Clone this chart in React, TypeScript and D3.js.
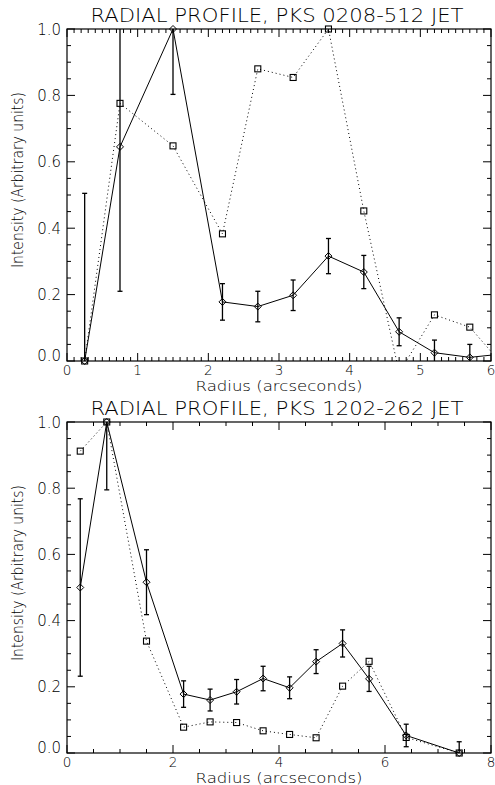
import React from "react";
import * as d3 from "d3";

// ---- Data ----
const titles = ["RADIAL PROFILE, PKS 0208-512 JET", "RADIAL PROFILE, PKS 1202-262 JET"];
const xAxisTitle = "Radius (arcseconds)";
const yAxisTitle = "Intensity (Arbitrary units)";

// Panel 1: PKS 0208-512
const radius1 = [0.25, 0.75, 1.5, 2.2, 2.7, 3.2, 3.7, 4.2, 4.7, 5.2, 5.7, 6.2];
const jet1 = [0.0, 0.645, 1.0, 0.178, 0.164, 0.198, 0.316, 0.268, 0.088, 0.025, 0.011, 0.022];
const jet1Err = [0.505, 0.435, 0.197, 0.055, 0.046, 0.046, 0.053, 0.05, 0.042, 0.038, 0.039, 0.0];
const model1 = [0.0, 0.776, 0.648, 0.383, 0.88, 0.854, 1.0, 0.452, -0.035, 0.139, 0.102, -0.02];
const xTicks1 = [0, 1, 2, 3, 4, 5, 6];

// Panel 2: PKS 1202-262
const radius2 = [0.25, 0.75, 1.5, 2.2, 2.7, 3.2, 3.7, 4.2, 4.7, 5.2, 5.7, 6.4, 7.4];
const jet2 = [0.5, 1.0, 0.516, 0.178, 0.16, 0.185, 0.225, 0.197, 0.276, 0.331, 0.224, 0.053, 0.0];
const jet2Err = [0.268, 0.205, 0.098, 0.04, 0.033, 0.037, 0.037, 0.033, 0.036, 0.041, 0.038, 0.034, 0.034];
const model2 = [0.912, 1.0, 0.338, 0.078, 0.094, 0.092, 0.067, 0.056, 0.046, 0.202, 0.277, 0.047, 0.0];
const xTicks2 = [0, 2, 4, 6, 8];

const yTicks = [0, 0.2, 0.4, 0.6, 0.8, 1.0];

const W = 495;
const H = 785;
const FONT = "'DejaVu Sans', 'Liberation Sans', sans-serif";
const WEIGHT = 200;

type PanelProps = {
  id: string;
  title: string;
  top: number;
  bottom: number;
  xMax: number;
  xTicks: number[];
  xMinorStep: number;
  radius: number[];
  jet: number[];
  jetErr: number[];
  model: number[];
};

function range(a: number, b: number, step: number) {
  const out: number[] = [];
  const n = Math.round((b - a) / step);
  for (let i = 0; i <= n; i++) out.push(a + i * step);
  return out;
}

function Panel(p: PanelProps) {
  const left = 67;
  const right = 491;
  const x = d3.scaleLinear().domain([0, p.xMax]).range([left, right]);
  const y = d3.scaleLinear().domain([0, 1]).range([p.bottom, p.top]);
  const majLen = 8;
  const minLen = 4;
  const xMinor = range(0, p.xMax, p.xMinorStep);
  const yMinor = range(0, 1, 0.05);

  const lineGen = d3
    .line<number>()
    .x((_, i) => x(p.radius[i]))
    .y((d) => y(d));

  const jetPath = lineGen(p.jet) || "";
  const modelPath = lineGen(p.model) || "";
  const inside = (i: number, v: number) => p.radius[i] <= p.xMax && v >= -0.001 && v <= 1.001;
  const clipId = `clip-${p.id}`;
  const cx = (left + right) / 2;

  return (
    <g>
      <defs>
        <clipPath id={clipId}>
          <rect x={left} y={p.top} width={right - left} height={p.bottom - p.top} />
        </clipPath>
      </defs>
      <text x={277} y={p.top - 7} fontSize={19} fontWeight={WEIGHT} textAnchor="middle" textLength={373} lengthAdjust="spacingAndGlyphs" fontFamily={FONT}>
        {p.title}
      </text>
      {/* frame */}
      <rect x={left} y={p.top} width={right - left} height={p.bottom - p.top} fill="none" stroke="#000" strokeWidth={1.2} />
      {/* x ticks bottom and top */}
      {xMinor.map((v, i) => {
        const isMajor = p.xTicks.some((t) => Math.abs(t - v) < 1e-6);
        const len = isMajor ? majLen : minLen;
        return (
          <g key={`xm${i}`} stroke="#000" strokeWidth={1}>
            <line x1={x(v)} x2={x(v)} y1={p.bottom} y2={p.bottom - len} />
            <line x1={x(v)} x2={x(v)} y1={p.top} y2={p.top + len} />
          </g>
        );
      })}
      {yMinor.map((v, i) => {
        const isMajor = yTicks.some((t) => Math.abs(t - v) < 1e-6);
        const len = isMajor ? majLen : minLen;
        return (
          <g key={`ym${i}`} stroke="#000" strokeWidth={1}>
            <line x1={left} x2={left + len} y1={y(v)} y2={y(v)} />
            <line x1={right} x2={right - len} y1={y(v)} y2={y(v)} />
          </g>
        );
      })}
      {/* tick labels */}
      {p.xTicks.map((t) => (
        <text key={`xl${t}`} x={x(t)} y={p.bottom + 13.5} fontSize={13.5} fontWeight={WEIGHT} textAnchor="middle" fontFamily={FONT}>
          {t}
        </text>
      ))}
      {yTicks.map((t) => (
        <text
          key={`yl${t}`}
          x={left - 6}
          y={t === 0 ? p.bottom : y(t) + 5.5}
          fontSize={15}
          fontWeight={WEIGHT}
          textAnchor="end"
          fontFamily={FONT}
        >
          {t.toFixed(1)}
        </text>
      ))}
      {/* axis titles */}
      <text x={cx} y={p.bottom + 29.5} fontSize={14.5} fontWeight={WEIGHT} textAnchor="middle" textLength={167} lengthAdjust="spacingAndGlyphs" fontFamily={FONT}>
        {xAxisTitle}
      </text>
      <text
        transform={`translate(23, ${p.top + 151}) rotate(-90)`}
        fontSize={15}
        fontWeight={WEIGHT}
        textAnchor="middle"
        textLength={176}
        lengthAdjust="spacingAndGlyphs"
        fontFamily={FONT}
      >
        {yAxisTitle}
      </text>
      {/* data */}
      <g clipPath={`url(#${clipId})`}>
        <path d={modelPath} fill="none" stroke="#000" strokeWidth={1} strokeDasharray="1,3" />
        <path d={jetPath} fill="none" stroke="#000" strokeWidth={1} />
        {p.jet.map((v, i) => {
          const e = p.jetErr[i];
          if (!e) return null;
          const px = x(p.radius[i]);
          return (
            <g key={`e${i}`} stroke="#000" strokeWidth={1.3}>
              <line x1={px} x2={px} y1={y(v - e)} y2={y(v + e)} />
              <line x1={px - 2.5} x2={px + 2.5} y1={y(v - e)} y2={y(v - e)} />
              <line x1={px - 2.5} x2={px + 2.5} y1={y(v + e)} y2={y(v + e)} />
            </g>
          );
        })}
      </g>
      {p.jet.map((v, i) =>
        inside(i, v) ? (
          <path
            key={`d${i}`}
            d={`M${x(p.radius[i])},${y(v) - 3.5}l3.5,3.5l-3.5,3.5l-3.5,-3.5z`}
            fill="none"
            stroke="#000"
            strokeWidth={1}
          />
        ) : null
      )}
      {p.model.map((v, i) =>
        inside(i, v) ? (
          <rect key={`s${i}`} x={x(p.radius[i]) - 3} y={y(v) - 3} width={6} height={6} fill="none" stroke="#000" strokeWidth={1.1} />
        ) : null
      )}
    </g>
  );
}

export default function App() {
  return (
    <svg width={W} height={H} style={{ position: "absolute", left: 0, top: 0, background: "#fff" }}>
      <rect x={0} y={0} width={W} height={H} fill="#fff" />
      <Panel
        id="p1"
        title={titles[0]}
        top={29}
        bottom={361}
        xMax={6}
        xTicks={xTicks1}
        xMinorStep={0.1}
        radius={radius1}
        jet={jet1}
        jetErr={jet1Err}
        model={model1}
      />
      <Panel
        id="p2"
        title={titles[1]}
        top={422}
        bottom={753}
        xMax={8}
        xTicks={xTicks2}
        xMinorStep={0.5}
        radius={radius2}
        jet={jet2}
        jetErr={jet2Err}
        model={model2}
      />
    </svg>
  );
}
